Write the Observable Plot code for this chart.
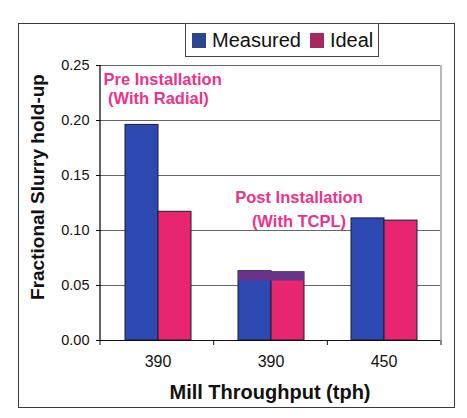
<!DOCTYPE html>
<html>
<head>
<meta charset="utf-8">
<script src="https://cdn.jsdelivr.net/npm/d3@7"></script>
<script src="https://cdn.jsdelivr.net/npm/@observablehq/plot@0.6"></script>
<style>
  body { margin: 0; background: #fff; font-family: "Liberation Sans", Arial, sans-serif; }
  #wrap { position: relative; width: 467px; height: 418px; overflow: hidden; }
  #frame { position: absolute; left: 18px; top: 23px; width: 435px; height: 383px; border: 1.5px solid #3a3a3a; }
  #chart { position: absolute; left: 0; top: 0; }
  #legend { position: absolute; left: 185px; top: 23px; width: 192px; height: 32px; border: 1px solid #444;
            background: #fff; display: flex; align-items: center; font-size: 20px; color: #111; }
  #legend .sw { width: 14px; height: 15px; margin-left: 6px; margin-right: 6px; }
  #legend .lab { margin-right: 3px; }
  #ytitle { position: absolute; left: 38px; top: 187px; transform: translate(-50%, -50%) rotate(-90deg);
            white-space: nowrap; font-weight: bold; font-size: 19px; color: #111; }
  #xtitle { position: absolute; left: 270px; top: 392px; transform: translate(-50%, -50%);
            white-space: nowrap; font-weight: bold; font-size: 20px; color: #111; }
</style>
</head>
<body>
<div id="wrap">
  <div id="frame"></div>
  <div id="chart"></div>
  <div id="legend"></div>
  <div id="ytitle">Fractional Slurry hold-up</div>
  <div id="xtitle">Mill Throughput (tph)</div>
</div>
<script>
// Mill throughput for each test, in tph
const groups = ["390", "390", "450"];
// Fractional slurry hold-up per test
const measured = [0.196, 0.063, 0.111];
const ideal = [0.117, 0.062, 0.109];
// Where the middle pair turns to the blended purple cap
const blendFrom = [null, 0.054, null];
// Notes per test group
const notes = ["Pre Installation\n (With Radial)", "Post Installation\n(With TCPL)", null];
const series = ["Measured", "Ideal"];
const yTicks = [0, 0.05, 0.10, 0.15, 0.20, 0.25];

const barColors = ["#2d49b2", "#e8266f"];
const swatchColors = ["#2b4592", "#a5285f"];
const blendColor = "#6a338a";
const noteColor = "#ee3288";

const rows = [];
groups.forEach((g, i) => {
  rows.push({group: i, series: "Measured", value: measured[i], blendFrom: blendFrom[i], note: notes[i]});
  rows.push({group: i, series: "Ideal", value: ideal[i], blendFrom: blendFrom[i], note: notes[i]});
});

const chart = Plot.plot({
  width: 467,
  height: 418,
  marginLeft: 100,
  marginRight: 26,
  marginTop: 65,
  marginBottom: 78,
  style: {background: "transparent", fontFamily: "Liberation Sans, Arial, sans-serif", color: "#111"},
  facet: {data: rows, x: "group"},
  fx: {padding: 0, tickSize: 0, tickPadding: 15, tickFormat: i => groups[i], label: null},
  x: {domain: series, paddingInner: 0, paddingOuter: 0.7, axis: null},
  y: {domain: [0, 0.25], ticks: yTicks, tickFormat: d3.format(".2f"), tickSize: 5, tickPadding: 7, label: null},
  color: {domain: series, range: barColors},
  marks: [
    Plot.ruleY(yTicks.slice(1), {stroke: "#666", strokeWidth: 1}),
    Plot.barY(rows, {x: "series", y: "value", fill: "series", stroke: "#1c1c30", strokeWidth: 1}),
    Plot.barY(rows, {filter: d => d.blendFrom != null, x: "series", y1: "blendFrom", y2: "value", fill: blendColor}),
    Plot.ruleY([0], {stroke: "#111", strokeWidth: 1.2}),
    Plot.text(rows, {filter: d => d.group === 0 && d.series === "Measured", text: "note",
      frameAnchor: "top-left", textAnchor: "start", lineAnchor: "top", dx: 2, dy: 5.5, lineHeight: 1.18,
      fill: noteColor, fontSize: 16.5, fontWeight: "bold"}),
    Plot.text(rows, {filter: d => d.group === 1 && d.series === "Measured", text: "note",
      frameAnchor: "top", textAnchor: "middle", lineAnchor: "top", dx: 28, dy: 121.5, lineHeight: 1.4,
      fill: noteColor, fontSize: 16.5, fontWeight: "bold"})
  ]
});
document.getElementById("chart").appendChild(chart);

// Axis text sizes
const svg = d3.select(chart);
svg.selectAll('g[aria-label^="fx-axis"] text').style("font-size", "16px");
svg.selectAll('g[aria-label^="y-axis"] text').style("font-size", "14.5px");

// Plot-area border, left axis line and the category boundary ticks, from the chart's own scales
const fxScale = chart.scale("fx"), yScale = chart.scale("y");
const band = d3.scaleBand(fxScale.domain, fxScale.range).paddingInner(0).paddingOuter(0);
const yS = d3.scaleLinear(yScale.domain, yScale.range);
const xLeft = fxScale.range[0], xRight = fxScale.range[1];
const yTop = yS(d3.max(yTicks)), yBottom = yS(0);
svg.append("line").attr("x1", xRight).attr("x2", xRight).attr("y1", yTop).attr("y2", yBottom)
  .attr("stroke", "#888").attr("stroke-width", 1.2);
svg.append("line").attr("x1", xLeft).attr("x2", xLeft).attr("y1", yTop).attr("y2", yBottom + 0.5)
  .attr("stroke", "#111").attr("stroke-width", 1.3);
const edges = fxScale.domain.map(d => band(d)).concat([xRight]);
svg.append("g").selectAll("line").data(edges).join("line")
  .attr("x1", d => d).attr("x2", d => d).attr("y1", yBottom).attr("y2", yBottom + 5)
  .attr("stroke", "#111").attr("stroke-width", 1);

// Legend
const legend = d3.select("#legend");
series.forEach((s, i) => {
  legend.append("div").attr("class", "sw").style("background", swatchColors[i]);
  legend.append("span").attr("class", "lab").text(s);
});
</script>
</body>
</html>
